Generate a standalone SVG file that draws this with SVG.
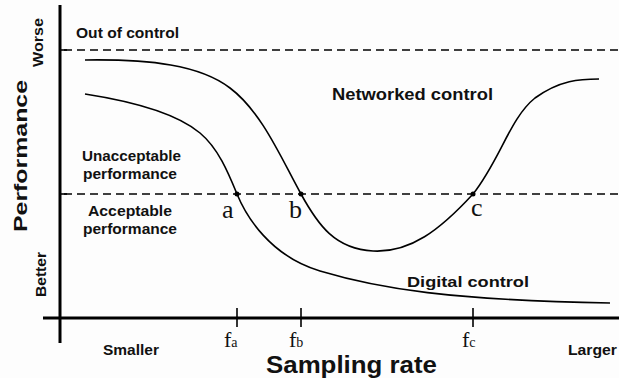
<svg xmlns="http://www.w3.org/2000/svg" width="619" height="378" viewBox="0 0 619 378">
<defs>
<style>
.axis{stroke:#000;stroke-width:3;fill:none}
.tick{stroke:#000;stroke-width:1.6;fill:none}
.dash{stroke:#000;stroke-width:1.4;stroke-dasharray:8 5;fill:none}
.curve{stroke:#000;stroke-width:1.6;fill:none}
.lbl{font-family:"Liberation Sans",Arial,sans-serif;font-weight:bold;fill:#111}
.ser{font-family:"Liberation Serif","DejaVu Serif",serif;fill:#111}
</style>
</defs>
<rect width="619" height="378" fill="#fdfdfd"/>
<g id="axes">
<line class="axis" x1="60" y1="5" x2="60" y2="343"/>
<line class="axis" x1="43" y1="318" x2="619" y2="318"/>
<line class="tick" x1="60" y1="50" x2="67" y2="50"/>
<line class="tick" x1="60" y1="194" x2="67" y2="194"/>
<line class="tick" x1="237" y1="308" x2="237" y2="327"/>
<line class="tick" x1="301" y1="308" x2="301" y2="327"/>
<line class="tick" x1="473" y1="308" x2="473" y2="327"/>
</g>
<g id="thresholds">
<line class="dash" x1="64" y1="50" x2="619" y2="50"/>
<line class="dash" x1="64" y1="194" x2="619" y2="194"/>
</g>
<g id="connectors">
<path id="networked" class="curve" d="M85,60 C150,59 200,65 230,88 C262,112 282,160 301,194 C318,225 335,249 373,251 C410,253 440,230 473,194 C500,160 510,118 535,98 C560,80 580,79 599,79"/>
<path id="digital" class="curve" d="M85,94 C130,101 175,112 200,133 C218,148 228,172 237,194 C246,216 270,256 320,271 C380,289 450,300 610,303"/>
</g>
<g id="point-a"><circle cx="237" cy="194" r="2.5"/><text class="ser" x="222" y="218" font-size="26">a</text></g>
<g id="point-b"><circle cx="301" cy="194" r="2.5"/><text class="ser" x="289" y="218" font-size="26">b</text></g>
<g id="point-c"><circle cx="473" cy="194" r="2.5"/><text class="ser" x="471" y="216" font-size="26">c</text></g>
<g id="labels">
<text class="lbl" x="76" y="38" font-size="14" textLength="103" lengthAdjust="spacingAndGlyphs">Out of control</text>
<text class="lbl" x="332" y="100" font-size="16" textLength="161" lengthAdjust="spacingAndGlyphs">Networked control</text>
<text class="lbl" x="82" y="161" font-size="14.5" textLength="99" lengthAdjust="spacingAndGlyphs">Unacceptable</text>
<text class="lbl" x="83" y="179" font-size="14.5" textLength="94" lengthAdjust="spacingAndGlyphs">performance</text>
<text class="lbl" x="88" y="216" font-size="14.5" textLength="84" lengthAdjust="spacingAndGlyphs">Acceptable</text>
<text class="lbl" x="83" y="234" font-size="14.5" textLength="94" lengthAdjust="spacingAndGlyphs">performance</text>
<text class="lbl" x="407" y="287" font-size="15" textLength="122" lengthAdjust="spacingAndGlyphs">Digital control</text>
<text class="lbl" x="103" y="355" font-size="15" textLength="56" lengthAdjust="spacingAndGlyphs">Smaller</text>
<text class="lbl" x="568" y="355" font-size="15" textLength="49" lengthAdjust="spacingAndGlyphs">Larger</text>
<text class="lbl" x="266" y="373" font-size="23" textLength="171" lengthAdjust="spacingAndGlyphs">Sampling rate</text>
<text class="lbl" transform="translate(27,232) rotate(-90)" font-size="19" textLength="152" lengthAdjust="spacingAndGlyphs">Performance</text>
<text class="lbl" transform="translate(43,67) rotate(-90)" font-size="14" textLength="49" lengthAdjust="spacingAndGlyphs">Worse</text>
<text class="lbl" transform="translate(46,297) rotate(-90)" font-size="14" textLength="45" lengthAdjust="spacingAndGlyphs">Better</text>
</g>
<g id="freq-labels">
<text class="ser" x="224" y="347" font-size="22">f<tspan font-size="14">a</tspan></text>
<text class="ser" x="289" y="347" font-size="22">f<tspan font-size="14">b</tspan></text>
<text class="ser" x="462" y="347" font-size="22">f<tspan font-size="14">c</tspan></text>
</g>
</svg>
